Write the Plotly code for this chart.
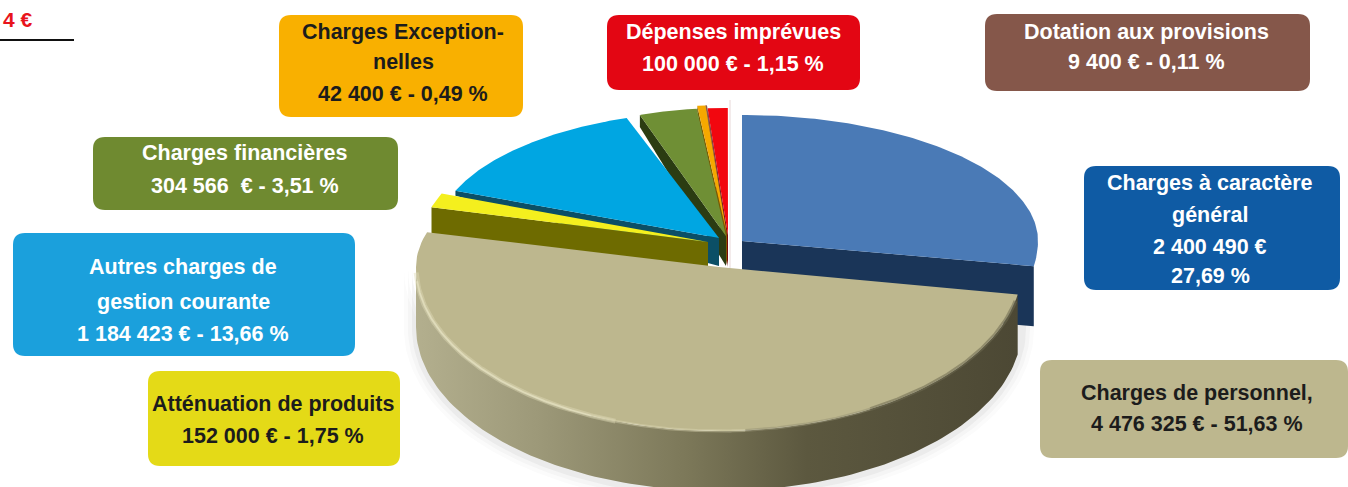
import numpy as np
import plotly.graph_objects as go

# ---- data ----
categories = ["Charges à caractère général", "Charges de personnel", "Atténuation de produits",
              "Autres charges de gestion courante", "Charges financières", "Charges Exceptionnelles",
              "Dotation aux provisions", "Dépenses imprévues"]
amounts = [2400490, 4476325, 152000, 1184423, 304566, 42400, 9400, 100000]
percents = [27.69, 51.63, 1.75, 13.66, 3.51, 0.49, 0.11, 1.15]
label_lines = [
    ["Charges à caractère", "général", "2 400 490 €", "27,69 %"],
    ["Charges de personnel,", "4 476 325 € - 51,63 %"],
    ["Atténuation de produits", "152 000 € - 1,75 %"],
    ["Autres charges de", "gestion courante", "1 184 423 € - 13,66 %"],
    ["Charges financières", "304 566  € - 3,51 %"],
    ["Charges Exception-", "nelles", "42 400 € - 0,49 %"],
    ["Dotation aux provisions", "9 400 € - 0,11 %"],
    ["Dépenses imprévues", "100 000 € - 1,15 %"],
]

# ---- styles ----
top_colors = ["#4a7ab6", "#bdb78e", "#f4ef1e", "#00a6e2", "#6f8f35", "#f5a800", "#8b5a4e", "#f2070f"]
wall_colors = ["#1a3558", "#55503b", "#6e6b00", "#0b4f66", "#2b3c12", "#7a5a00", "#4a2a20", "#7a0a0a"]
box_colors = ["#0f5ba4", "#bdb78e", "#e4da17", "#1ba0dc", "#6f8a30", "#f9b000", "#85574a", "#e30613"]
text_colors = ["white", "#1c1c1c", "#1c1c1c", "white", "white", "#1c1c1c", "white", "white"]
# apex x, apex y, rx, ry back, ry front, outer depth, apex depth
geom = [
    (742, 241, 296, 126, 150, 60, 60),
    (719, 267, 303, 130, 164, 60, 60),
    (708, 242, 287, 130, 140, 28, 26),
    (719, 238, 284, 127, 140, 5, 28),
    (726, 236, 265, 128, 140, 12, 30),
    (727, 235, 270, 130, 140, 6, 30),
    (727, 235, 275, 130, 140, 4, 30),
    (728, 235, 280, 127, 140, 20, 32),
]
# box x0, y0, x1, y1, then line centre ys and text centre x
boxes = [
    (1084, 166, 1340, 290, [183, 215, 247, 276], 1210),
    (1040, 360, 1348, 458, [393, 424], 1197),
    (148, 371, 400, 466, [404, 436], 273),
    (13, 233, 355, 356, [267, 302, 334], 183),
    (93, 137, 398, 210, [153, 186], 245),
    (279, 15, 523, 117, [32, 62, 94], 403),
    (985, 14, 1310, 91, [32, 62], 1146),
    (607, 15, 860, 90, [32, 64], 733),
]
FONT = "Liberation Sans"
FONT_SIZE = 21.5


def rounded(x0, y0, x1, y1, r=12):
    return (f"M{x0+r},{y0} L{x1-r},{y0} Q{x1},{y0} {x1},{y0+r} L{x1},{y1-r} Q{x1},{y1} {x1-r},{y1} "
            f"L{x0+r},{y1} Q{x0},{y1} {x0},{y1-r} L{x0},{y0+r} Q{x0},{y0} {x0+r},{y0} Z")


def arc(g, a0, a1, n=120, dz=0):
    ax, ay, rx, ryb, ryf = g[:5]
    t = np.radians(np.linspace(a0, a1, n))
    s = np.sin(t)
    return ax + rx * np.cos(t), ay - np.where(s > 0, ryb, ryf) * s + dz


# math angles: pie starts at 12 o'clock, runs clockwise
edges = 90 - np.concatenate([[0], np.cumsum(percents)]) * 3.6
fig = go.Figure()


def poly(x, y, color, **kw):
    fig.add_trace(go.Scatter(x=x, y=y, mode="lines", fill="toself", fillcolor=color,
                             line=dict(width=0, color=color), hoverinfo="skip",
                             showlegend=False, **kw))


def rim(a0, a1, color, width):
    x, y = arc(geom[1], a0, a1)
    fig.add_trace(go.Scatter(x=x, y=y, mode="lines", line=dict(color=color, width=width),
                             hoverinfo="skip", showlegend=False))


# soft shadow below the pie
g1 = geom[1]
for grow, alpha in [(12, 0.02), (8, 0.03), (4, 0.05)]:
    gs = (g1[0], g1[1], g1[2] + grow, g1[3], g1[4] + grow)
    sx, sy = arc(gs, 0, -180, dz=g1[5] + 2)
    poly(np.r_[sx, sx[::-1]], np.r_[sy, sy[::-1] - 60], f"rgba(60,60,60,{alpha})")

# back slices painted far to near, then the blue slice, then the big front slice
for i in [7, 6, 5, 4, 3, 2, 0]:
    g = geom[i]
    a0, a1 = edges[i], edges[i + 1]
    ax, ay = g[0], g[1]
    radial = a1 if i == 0 else a0
    ox, oy = arc(g, radial, radial, 1)
    poly([ax, ox[0], ox[0], ax], [ay, oy[0], oy[0] + g[5], ay + g[6]], wall_colors[i])
    x, y = arc(g, a0, a1)
    poly(np.r_[ax, x], np.r_[ay, y], top_colors[i])

# big slice: wall with horizontal shading, then top
g = geom[1]
a0, a1 = edges[1], edges[2]
wx, wy = arc(g, a0, -180)
poly(np.r_[wx, wx[::-1]], np.r_[wy, wy[::-1] + g[5]], "#8a8668",
     fillgradient=dict(type="horizontal", colorscale=[
         [0, "#b3af8e"], [0.2, "#9d9979"], [0.45, "#7c7859"], [0.65, "#5c583f"], [1, "#4c4834"]]))
x, y = arc(g, a0, a1)
poly(np.r_[g[0], x], np.r_[g[1], y], top_colors[1])
# soft bevel along the front rim
rim(-178, -110, "rgba(222,218,182,0.45)", 5)
rim(-175, -115, "rgba(226,222,190,0.8)", 2)
rim(-115, -85, "rgba(222,218,182,0.4)", 3)
rim(-85, -60, "rgba(150,146,115,0.5)", 3)
rim(-60, -12, "rgba(110,106,80,0.55)", 4)

# label boxes and text
shapes = [dict(type="path", path=rounded(*b[:4]), fillcolor=c, line=dict(width=0), layer="above")
          for b, c in zip(boxes, box_colors)]
shapes.append(dict(type="line", x0=0, x1=74, y0=40, y1=40, line=dict(color="#111111", width=2)))
shapes.append(dict(type="line", x0=730, x1=730, y0=100, y1=268,
                   line=dict(color="rgba(225,205,205,0.8)", width=1)))
annotations = []
for b, lines, col in zip(boxes, label_lines, text_colors):
    for txt, yy in zip(lines, b[4]):
        annotations.append(dict(x=b[5], y=yy, text=f"<b>{txt}</b>", showarrow=False, xanchor="center",
                                yanchor="middle", font=dict(family=FONT, size=FONT_SIZE, color=col)))
annotations.append(dict(x=1, y=19, text="<b>4 €</b>", showarrow=False, xanchor="left", yanchor="middle",
                        font=dict(family=FONT, size=21, color="#e8141c")))

fig.update_layout(
    width=1348, height=487, margin=dict(l=0, r=0, t=0, b=0),
    paper_bgcolor="white", plot_bgcolor="white", showlegend=False,
    xaxis=dict(range=[0, 1348], visible=False, fixedrange=True),
    yaxis=dict(range=[487, 0], visible=False, fixedrange=True),
    shapes=shapes, annotations=annotations,
)
fig.write_html("out.html", config=dict(displayModeBar=False),
               post_script="document.body.style.margin='0';document.documentElement.style.overflow='hidden';")
